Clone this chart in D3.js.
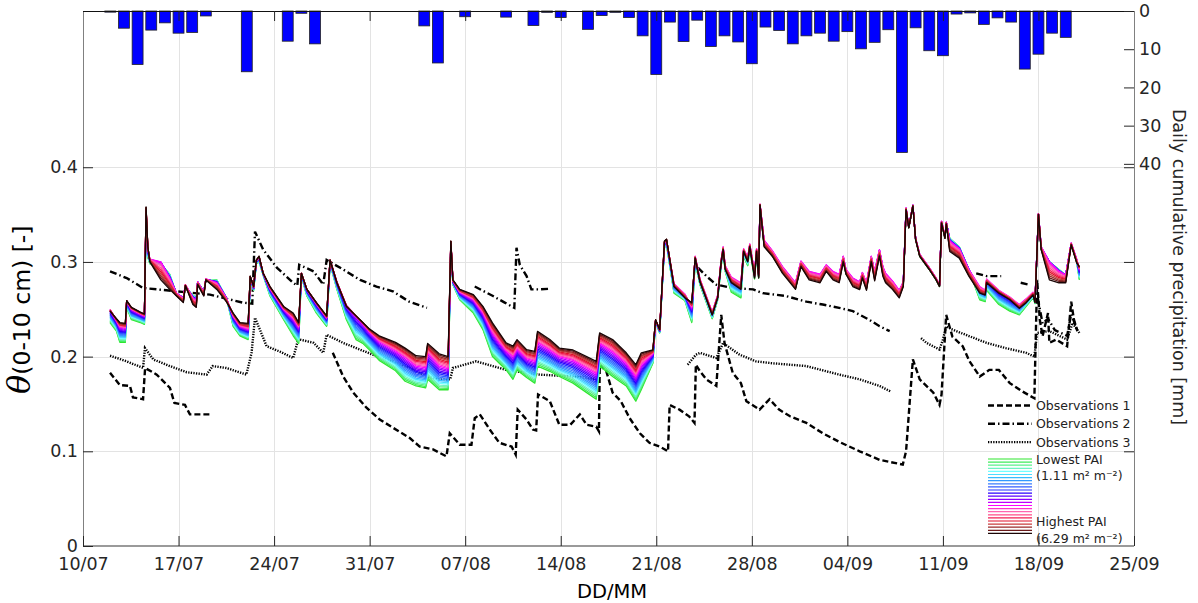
<!DOCTYPE html>
<html><head><meta charset="utf-8">
<script src="https://cdn.jsdelivr.net/npm/d3@7"></script>
<style>
body{margin:0;background:#fff;}
svg{display:block;font-family:"DejaVu Sans",Verdana,sans-serif;}
</style></head><body>
<svg id="chart" width="1198" height="603"></svg>
<script>
// ---------------- DATA ----------------
const startDay = Date.UTC(2019, 6, 10);          // day 0 = 10/07
const xTickLabels = ["10/07","17/07","24/07","31/07","07/08","14/08","21/08","28/08","04/09","11/09","18/09","25/09"];
const yTicks = [0, 0.1, 0.2, 0.3, 0.4];
const precipTicks = [0, 10, 20, 30, 40];

// daily precipitation (day offset from 10/07, mm)
const precipDay = [2,3,4,5,6,7,8,9,12,15,16,17,25,26,28,31,33,34,35,37,38,39,40,41,42,43,44,45,46,47,48,49,50,51,52,53,54,55,56,57,58,59,60,61,62,63,64,65,66,67,68,69,70,71,72];
const precipMm  = [0.3,4.5,14,5,3.1,5.8,5.6,1.3,15.9,7.9,0.6,8.6,3.9,13.6,1.5,1.6,3.8,0.35,1.7,4.8,1.2,0.35,1.7,6.5,16.6,2.9,8,2.4,9.3,6.5,8.1,13.8,4.2,5.1,8.6,6.5,5.8,7.9,5.4,9.9,8.2,4.9,37,4.4,10.4,11.7,0.8,0.5,3.5,1.8,2.9,15.2,11.3,5.8,6.9];

// modelled soil moisture: lowest PAI (green), a middle PAI run (magenta) and highest PAI (black)
const modelDay = [1.98,2.45,2.7,3.1,3.2,3.55,4.2,4.5,4.62,4.75,4.9,5.7,6.35,6.85,7.35,7.5,8.05,8.3,8.4,8.85,9.0,9.8,10.5,11.0,11.5,12.1,12.25,12.5,12.7,12.9,13.2,13.7,14.7,15.4,15.8,16.0,16.4,17.1,17.85,18.1,18.6,19.3,20.0,20.5,21.0,21.7,22.9,23.6,24.4,25.1,25.25,26.1,26.75,26.95,27.1,27.6,28.6,29.3,30.0,30.5,31.0,31.5,31.8,32.5,33.1,33.3,34.2,34.9,35.9,36.9,37.6,37.85,38.8,39.8,40.5,40.9,41.75,41.95,42.25,42.6,42.75,43.3,44.1,44.6,44.85,45.2,46.1,46.5,46.75,46.9,47.05,47.5,48.2,48.4,48.7,48.85,49.2,49.35,49.5,49.6,49.9,50.5,51.25,52.2,52.6,53.2,54.0,54.45,54.95,55.4,55.7,55.9,56.4,56.9,57.1,57.4,57.75,58.0,58.35,58.6,58.8,59.3,59.8,60.1,60.3,60.5,60.8,61.0,61.3,62.0,62.5,62.75,62.9,63.15,63.25,63.5,64.2,64.9,65.7,66.1,66.2,67.1,67.9,68.6,69.1,69.6,69.75,70.0,70.2,70.8,71.5,72.0,72.4,72.8,73.0];
const modelLowPAI = [0.236,0.227,0.215,0.215,0.252,0.239,0.236,0.234,0.345,0.305,0.298,0.298,0.287,0.266,0.262,0.272,0.265,0.262,0.278,0.269,0.280,0.281,0.262,0.232,0.222,0.218,0.280,0.270,0.298,0.300,0.286,0.264,0.239,0.222,0.214,0.285,0.264,0.246,0.232,0.298,0.271,0.239,0.218,0.214,0.207,0.196,0.185,0.174,0.169,0.167,0.176,0.165,0.165,0.318,0.276,0.260,0.246,0.2285,0.200,0.193,0.186,0.176,0.186,0.178,0.172,0.190,0.1845,0.179,0.172,0.162,0.155,0.190,0.179,0.169,0.153,0.165,0.193,0.236,0.225,0.315,0.318,0.267,0.259,0.236,0.300,0.276,0.240,0.260,0.295,0.310,0.290,0.268,0.262,0.306,0.296,0.313,0.282,0.308,0.283,0.356,0.318,0.306,0.290,0.272,0.296,0.285,0.283,0.292,0.284,0.283,0.302,0.287,0.278,0.274,0.284,0.272,0.302,0.285,0.309,0.290,0.283,0.274,0.265,0.276,0.355,0.336,0.359,0.3235,0.306,0.292,0.281,0.274,0.341,0.325,0.341,0.325,0.316,0.292,0.260,0.258,0.270,0.255,0.248,0.244,0.253,0.262,0.256,0.350,0.313,0.300,0.292,0.286,0.318,0.300,0.281];
const modelMidPAI = [0.250,0.238,0.231,0.230,0.259,0.250,0.245,0.243,0.355,0.314,0.303,0.300,0.283,0.267,0.262,0.276,0.262,0.259,0.279,0.268,0.282,0.278,0.262,0.243,0.232,0.229,0.284,0.273,0.301,0.305,0.288,0.272,0.250,0.240,0.231,0.288,0.271,0.256,0.241,0.302,0.279,0.254,0.243,0.235,0.226,0.216,0.206,0.199,0.190,0.188,0.204,0.190,0.187,0.321,0.280,0.268,0.260,0.246,0.225,0.215,0.206,0.200,0.208,0.198,0.195,0.215,0.207,0.200,0.196,0.188,0.182,0.214,0.205,0.193,0.179,0.191,0.203,0.238,0.228,0.320,0.323,0.277,0.266,0.252,0.306,0.282,0.247,0.265,0.302,0.316,0.296,0.284,0.278,0.314,0.305,0.319,0.289,0.314,0.289,0.361,0.323,0.312,0.295,0.278,0.301,0.290,0.287,0.297,0.290,0.287,0.306,0.292,0.283,0.279,0.289,0.278,0.306,0.290,0.313,0.295,0.288,0.280,0.270,0.279,0.357,0.337,0.360,0.325,0.308,0.294,0.283,0.276,0.343,0.327,0.342,0.322,0.314,0.292,0.274,0.270,0.282,0.270,0.263,0.255,0.261,0.268,0.260,0.351,0.316,0.300,0.290,0.286,0.320,0.303,0.292];
const modelHighPAI = [0.248,0.240,0.236,0.235,0.259,0.252,0.247,0.245,0.358,0.316,0.300,0.281,0.271,0.264,0.257,0.275,0.255,0.252,0.276,0.264,0.281,0.271,0.258,0.246,0.236,0.235,0.285,0.274,0.302,0.306,0.288,0.274,0.253,0.246,0.236,0.288,0.271,0.257,0.243,0.302,0.278,0.253,0.243,0.236,0.229,0.222,0.215,0.209,0.201,0.200,0.214,0.203,0.200,0.322,0.281,0.271,0.2655,0.253,0.2356,0.225,0.2145,0.211,0.218,0.2074,0.2056,0.2267,0.218,0.209,0.207,0.200,0.195,0.225,0.218,0.204,0.1915,0.204,0.207,0.239,0.2285,0.322,0.324,0.274,0.262,0.257,0.304,0.279,0.244,0.262,0.299,0.313,0.292,0.278,0.271,0.311,0.300,0.316,0.283,0.311,0.283,0.360,0.316,0.306,0.288,0.271,0.295,0.281,0.278,0.290,0.281,0.278,0.300,0.287,0.274,0.2707,0.283,0.270,0.300,0.280,0.306,0.285,0.278,0.271,0.262,0.274,0.355,0.336,0.359,0.3235,0.306,0.292,0.281,0.274,0.341,0.325,0.340,0.311,0.304,0.285,0.267,0.265,0.278,0.267,0.260,0.251,0.257,0.265,0.257,0.350,0.313,0.281,0.278,0.278,0.318,0.299,0.295];

// observations (null = gap)
const obs1Day   = [1.98,2.7,3.44,3.66,4.4,4.55,5.4,6.37,6.7,7.47,7.83,9.42,12,18.3,19.06,19.8,20.77,21.74,22.7,23.94,24.67,25.65,26.63,26.87,27.6,28.46,28.7,29.07,29.8,30.5,31.4,31.7,31.85,32.5,32.96,33.2,33.34,34.2,34.9,35.7,36.4,36.9,37.6,37.8,37.86,38.34,38.8,39.4,40.05,40.8,41.5,42.25,42.86,42.98,43.7,44.4,44.8,44.9,45.2,45.67,46.4,46.76,47.0,47.6,48.2,48.6,49.57,50.3,51.0,51.8,53.0,54.2,55.4,56.9,58.36,60.06,60.3,60.8,61.3,62.3,62.75,62.9,63.24,63.7,64.45,64.95,65.7,66.4,67.1,67.9,68.85,69.7,69.9,70.1,70.3,70.7,70.8,71.3,72.1,72.4,72.6,72.85];
const obs1Theta = [0.183,0.170,0.169,0.157,0.155,0.188,0.181,0.167,0.151,0.149,0.139,0.139,null,0.204,0.179,0.162,0.146,0.1335,0.125,0.114,0.105,0.102,0.0947,0.119,0.107,0.107,0.135,0.139,0.123,0.109,0.105,0.0965,0.144,0.1335,0.123,0.122,0.160,0.153,0.128,0.128,0.139,0.128,0.126,0.121,0.1915,0.1845,0.162,0.153,0.135,0.119,0.109,0.105,0.100,0.149,0.144,0.137,0.130,0.1915,0.1845,0.176,0.169,0.244,0.2145,0.183,0.172,0.153,0.144,0.155,0.144,0.137,0.130,0.119,0.110,0.100,0.091,0.086,0.100,0.197,0.176,0.162,0.149,0.160,0.244,0.221,0.211,0.195,0.179,0.186,0.186,0.172,0.163,0.156,0.281,0.239,0.2215,0.246,0.2145,0.218,0.211,0.258,0.239,0.227];

const obs2Day   = [1.98,3.2,4.4,6.86,9.3,11.7,12.4,12.6,13.2,14.2,15.4,15.7,15.84,16.9,17.6,17.85,19.06,20.3,21.5,22.7,23.9,25.2,27,28.7,30.04,30.9,31.6,31.76,32.0,32.5,32.85,33.46,34.07,40,45.05,45.67,46.4,47.6,49.1,49.8,51.5,53.0,54.2,55.4,56.4,57.6,58.36,59.1,62,65.44,66.2,67.27,68,68.7,69.3,69.6,69.95,70.3,70.7,71.2,72.1,72.4,72.9];
const obs2Theta = [0.290,0.283,0.2725,0.269,0.2655,0.257,0.256,0.332,0.313,0.294,0.278,0.275,0.297,0.290,0.276,0.302,0.292,0.281,0.274,0.269,0.258,0.2515,null,0.274,0.264,0.257,0.2515,0.315,0.297,0.285,0.271,0.271,0.2715,null,0.294,0.285,0.276,0.2725,0.271,0.267,0.264,0.258,0.255,0.2515,0.248,0.239,0.232,0.227,null,0.288,0.285,0.285,null,0.278,0.276,null,0.262,0.235,0.240,0.228,0.222,0.245,0.226];

const obs3Day   = [1.98,3.2,4.4,4.54,5.15,6.37,7.6,9.06,9.5,10.5,11.97,12.35,12.6,12.96,13.45,14.4,15.4,15.77,16.9,17.6,17.85,19.06,20.28,21.5,22.7,23.9,25.2,26.1,26.9,27.1,28.8,31.0,33.46,35.9,37.86,41,44.3,44.9,45.2,46.4,46.9,48.1,49.3,50.5,53.0,55.4,56.9,58.36,59.2,60,61.4,61.8,62.75,63.0,63.24,63.7,64.95,66.2,67.6,69.1,69.7,69.9,70.8,72.1,72.5,73.0];
const obs3Theta = [0.201,0.195,0.188,0.209,0.197,0.190,0.1835,0.181,0.190,0.188,0.181,0.204,0.241,0.2285,0.211,0.2055,0.1985,0.2185,0.2145,0.204,0.223,0.2145,0.2075,0.2005,0.195,0.188,0.179,0.176,0.176,0.188,0.195,0.186,0.181,0.179,0.176,null,0.1915,0.202,0.204,0.1985,0.2145,0.202,0.195,0.193,0.190,0.181,0.176,0.169,0.163,null,0.2195,0.2145,0.2075,0.218,0.232,0.2285,0.2215,0.2145,0.209,0.204,0.200,0.225,0.227,0.218,0.2355,0.225];

const paiLowLabel = "Lowest PAI";
const paiLowValue = "(1.11 m\u00B2 m\u207B\u00B2)";
const paiHighLabel = "Highest PAI";
const paiHighValue = "(6.29 m\u00B2 m\u207B\u00B2)";
const obsLabels = ["Observations 1","Observations 2","Observations 3"];

// ---------------- STYLE ----------------
const paiColors = ["#2ee62e","#40ec5a","#5cf08c","#6ff4c0","#70ffff","#4ddcff","#38bcff","#3399ff","#3a7dff","#335cff","#2233ff","#2a00ff","#5a00ff","#8a00ff","#c000ff","#ff00ff","#ff33cc","#ff66b0","#ff4d88","#f21f55","#e0102a","#c83c3c","#9a2a2a","#6a1a1a","#1a0505"];
const midIndex = 15;   // the magenta run in the colour ramp
const obsDash = ["6,3", "7,3,1.5,3", "1.3,1.3"];
const W = 1198, H = 603;
const L = 83, R = 1134, T = 11, B = 546;
const axisCol = "#262626";
const fontTick = 17.5;

const day = d => new Date(startDay + d * 864e5);
const parseLabel = s => { const [dd, mm] = s.split("/").map(Number); return new Date(Date.UTC(2019, mm - 1, dd)); };
const xTickDates = xTickLabels.map(parseLabel);

const x = d3.scaleUtc().domain([xTickDates[0], xTickDates[xTickDates.length - 1]]).range([L, R]);
const y = d3.scaleLinear().domain([0, 0.565]).range([B, T]);
const yP = d3.scaleLinear().domain([0, 140]).range([T, B]);

const svg = d3.select("#chart");
svg.append("rect").attr("width", W).attr("height", H).attr("fill", "#fff");

// grid
const grid = svg.append("g").attr("stroke", "#e3e3e3").attr("stroke-width", 1);
grid.selectAll("line.v").data(xTickDates.slice(1, -1)).join("line")
  .attr("x1", d => Math.round(x(d)) + 0.5).attr("x2", d => Math.round(x(d)) + 0.5)
  .attr("y1", T).attr("y2", B);
grid.selectAll("line.h").data(yTicks.filter(v => v > 0)).join("line")
  .attr("x1", L).attr("x2", R)
  .attr("y1", d => Math.round(y(d)) + 0.5).attr("y2", d => Math.round(y(d)) + 0.5);

// precipitation bars
const bw = (x(day(1)) - x(day(0))) * 0.8;
svg.append("g").selectAll("rect").data(precipDay.map((d, i) => ({ d, v: precipMm[i] }))).join("rect")
  .attr("x", p => x(day(p.d)) - bw / 2).attr("width", bw)
  .attr("y", yP(0)).attr("height", p => yP(p.v) - yP(0))
  .attr("fill", "#0000ff").attr("stroke", "#222").attr("stroke-width", 0.8);

// observations
function obsSeries(days, vals) { return days.map((d, i) => ({ d, v: vals[i] })); }
const line = d3.line().defined(p => p.v !== null).x(p => x(day(p.d))).y(p => y(p.v));
const obsSets = [obsSeries(obs1Day, obs1Theta), obsSeries(obs2Day, obs2Theta), obsSeries(obs3Day, obs3Theta)];
const obsG = svg.append("g").attr("fill", "none").attr("stroke", "#000").attr("stroke-width", 2.4);
obsSets.forEach((s, i) => obsG.append("path").attr("d", line(s)).attr("stroke-dasharray", obsDash[i]));

// model ensemble (lowest -> highest PAI), colour ramp anchored on the three read runs
const n = paiColors.length;
const modelG = svg.append("g").attr("fill", "none").attr("stroke-width", 1.3).attr("stroke-linejoin", "round");
for (let k = 0; k < n; k++) {
  const pts = modelDay.map((d, i) => {
    let v;
    if (k <= midIndex) { const f = k / midIndex; v = modelLowPAI[i] + (modelMidPAI[i] - modelLowPAI[i]) * f; }
    else { const f = (k - midIndex) / (n - 1 - midIndex); v = modelMidPAI[i] + (modelHighPAI[i] - modelMidPAI[i]) * f; }
    return { d, v };
  });
  modelG.append("path").attr("d", line(pts)).attr("stroke", paiColors[k]);
}

// box lines
const box = svg.append("g").attr("shape-rendering", "crispEdges");
box.append("line").attr("x1", L).attr("x2", L).attr("y1", T).attr("y2", B).attr("stroke", "#808080");
box.append("line").attr("x1", R).attr("x2", R).attr("y1", T).attr("y2", B).attr("stroke", "#808080");
box.append("line").attr("x1", L).attr("x2", R).attr("y1", B).attr("y2", B).attr("stroke", "#9a9a9a").attr("stroke-width", 2);
box.append("line").attr("x1", L).attr("x2", R).attr("y1", T).attr("y2", T).attr("stroke", "#111");

function styleAxis(g, labels) {
  g.select(".domain").remove();
  g.selectAll(".tick line").attr("stroke", axisCol);
  g.selectAll("text").attr("fill", axisCol).attr("font-size", fontTick).attr("font-family", "DejaVu Sans, Verdana, sans-serif");
  if (!labels) g.selectAll("text").remove();
}
// axes
svg.append("g").attr("transform", `translate(0,${B})`)
  .call(d3.axisBottom(x).tickValues(xTickDates).tickFormat((d, i) => xTickLabels[i]).tickSize(-10).tickPadding(12))
  .call(g => styleAxis(g, true));
svg.append("g").attr("transform", `translate(0,${T})`)
  .call(d3.axisTop(x).tickValues(xTickDates.slice(1, -1)).tickSize(-10))
  .call(g => styleAxis(g, false));
svg.append("g").attr("transform", `translate(${L},0)`)
  .call(d3.axisLeft(y).tickValues(yTicks).tickFormat(d => d === 0 ? "0" : d3.format(".1f")(d)).tickSize(-10).tickPadding(5))
  .call(g => styleAxis(g, true));
svg.append("g").attr("transform", `translate(${R},0)`)
  .call(d3.axisRight(y).tickValues(yTicks.filter(v => v > 0)).tickSize(-10))
  .call(g => styleAxis(g, false));
svg.append("g").attr("transform", `translate(${R},0)`)
  .call(d3.axisRight(yP).tickValues(precipTicks).tickSize(-10).tickPadding(5))
  .call(g => styleAxis(g, true));

// axis labels
svg.append("text").attr("x", 612).attr("y", 598).attr("text-anchor", "middle")
  .attr("font-size", 19.5).attr("fill", "#000").text("DD/MM");
const yl = svg.append("text").attr("transform", "translate(30,394) rotate(-90)").attr("fill", "#000");
yl.append("tspan").attr("font-family", "DejaVu Serif").attr("font-style", "italic").attr("font-size", 32).text("\u03B8");
yl.append("tspan").attr("font-size", 23.5).text("(0-10 cm) [-]");
svg.append("text").attr("transform", "translate(1173,267) rotate(90)").attr("text-anchor", "middle")
  .attr("font-size", 17.5).attr("fill", axisCol).text("Daily cumulative precipitation [mm]");

// legend
const lg = svg.append("g");
const lx1 = 988, lx2 = 1032, tx = 1036;
obsLabels.forEach((t, i) => {
  const yy = 405.5 + i * 18.3;
  lg.append("line").attr("x1", lx1).attr("x2", lx2).attr("y1", yy).attr("y2", yy)
    .attr("stroke", "#000").attr("stroke-width", 2.4).attr("stroke-dasharray", obsDash[i]);
  lg.append("text").attr("x", tx).attr("y", yy + 4.5).attr("font-size", 12.5).attr("fill", "#222").text(t);
});
for (let k = 0; k < n; k++) {
  const yy = 459 + k * 3.1;
  lg.append("line").attr("x1", lx1).attr("x2", lx2).attr("y1", yy).attr("y2", yy)
    .attr("stroke", paiColors[k]).attr("stroke-width", 1.2);
}
[[paiLowLabel, 463.5], [paiLowValue, 480], [paiHighLabel, 526], [paiHighValue, 542.5]].forEach(([t, yy]) =>
  lg.append("text").attr("x", tx).attr("y", yy).attr("font-size", 12.5).attr("fill", "#222").text(t));
</script>
</body></html>
